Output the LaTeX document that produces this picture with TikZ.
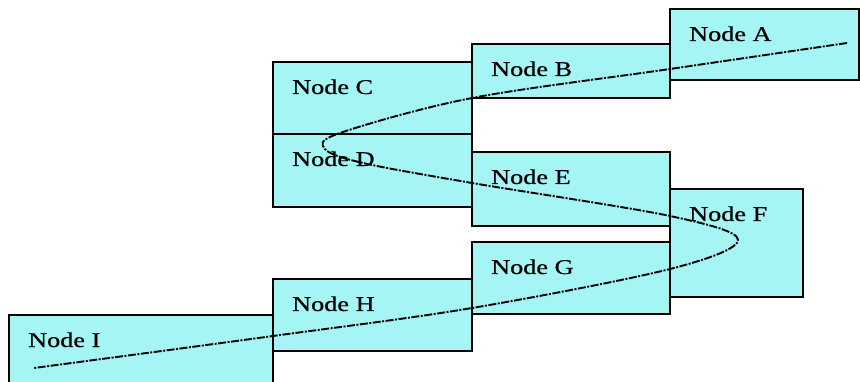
\documentclass[tikz,border=0pt]{standalone}
\usepackage{fontspec}
\setmainfont[FakeBold=0.6]{Liberation Serif}
\usetikzlibrary{calc}
\definecolor{boxfill}{RGB}{165,245,245}
\newcommand{\widetext}[1]{\scalebox{1.25}[1]{#1}}
\begin{document}
\begin{tikzpicture}[x=1pt,y=-1pt,
  box/.style={draw=black, line width=1.4pt, fill=boxfill, anchor=north west, inner sep=0pt, outer sep=0pt},
  lbl/.style={anchor=base west, inner sep=0pt, font=\fontsize{21}{21}\selectfont},
  curve/.style={line width=1.9pt, dash pattern=on 8pt off 1.5pt on 2pt off 1.5pt}]
\useasboundingbox (0,0) rectangle (860,382);
% boxes
\node[box, minimum width=264pt, minimum height=80pt] (I) at (9,315) {};
\node[box, minimum width=199pt, minimum height=72pt] (H) at (273,279) {};
\node[box, minimum width=198pt, minimum height=72pt] (G) at (472,242) {};
\node[box, minimum width=133pt, minimum height=108pt] (F) at (670,189) {};
\node[box, minimum width=198pt, minimum height=74pt] (E) at (472,152) {};
\node[box, minimum width=199pt, minimum height=73pt] (D) at (273,134) {};
\node[box, minimum width=199pt, minimum height=72pt] (C) at (273,62) {};
\node[box, minimum width=198pt, minimum height=54pt] (B) at (472,44) {};
\node[box, minimum width=189pt, minimum height=71pt] (A) at (670,9) {};
% labels
\foreach \n in {A,B,C,D,E,F,G,H,I}{
  \node[lbl] (t\n) at ($(\n.north west)+(19,32)$) {\widetext{Node \n}};
}
% curve
\coordinate (s) at (847,43);
\coordinate (e) at (34,368);
\draw[curve] plot[smooth, tension=0.55] coordinates {(s) (670,69) (472,98) (340,133) (325,149) (363,163) (472,183) (670,216) (738,240) (670,269) (472,308) (273,336) (e)};
\end{tikzpicture}
\end{document}
